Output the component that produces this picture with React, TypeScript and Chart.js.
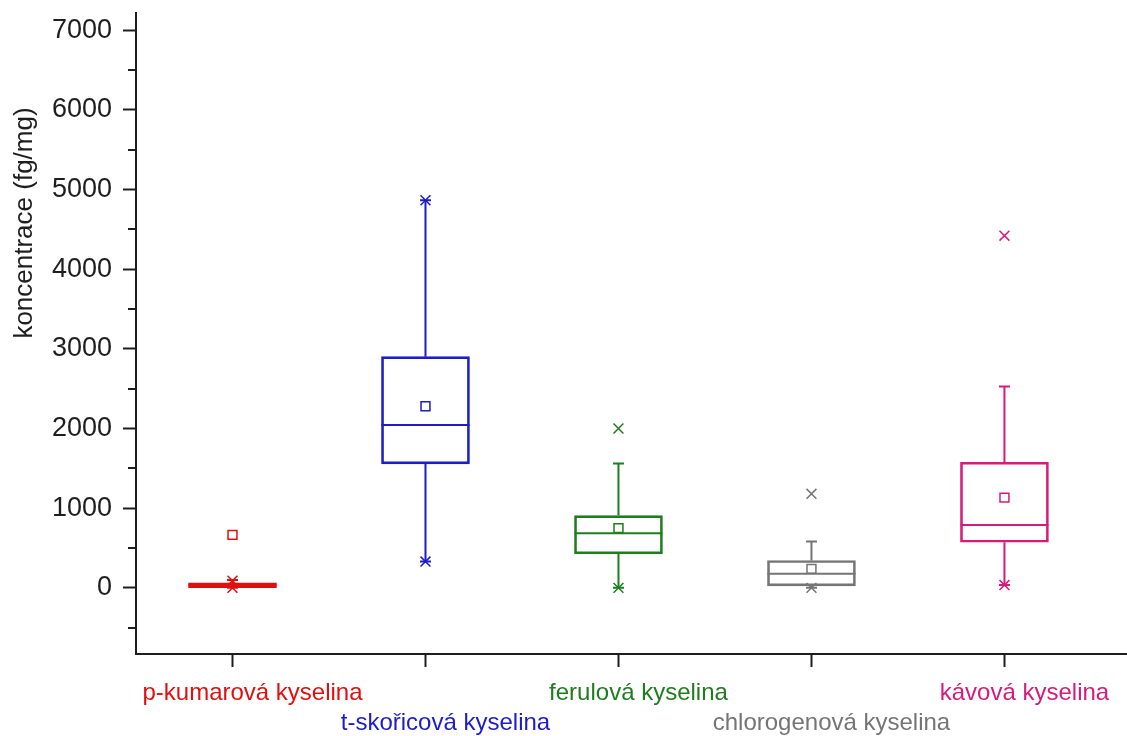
import React, { useEffect, useRef } from 'react';
import { Chart, registerables } from 'chart.js';

Chart.register(...registerables);

// ---- data ----
const categories = [
  'p-kumarová kyselina',
  't-skořicová kyselina',
  'ferulová kyselina',
  'chlorogenová kyselina',
  'kávová kyselina',
];
const positions = [1, 2, 3, 4, 5];
const colors = ['#e01010', '#1c1cc8', '#1f7d1f', '#757575', '#d81b7a'];

const q1 = [2, 1556, 427, 25, 573];
const median = [35, 2045, 686, 176, 790];
const q3 = [62, 2902, 907, 343, 1577];
const whiskerLow = [0, 330, 0, 0, 35];
const whiskerHigh = [100, 4865, 1560, 581, 2526];
const means = [665, 2280, 750, 238, 1133];
const lowMarkers = [0, 330, 0, 0, 35];
const highMarkers = [90, 4865, 2000, 1180, 4420];

const yMajorTicks = [0, 1000, 2000, 3000, 4000, 5000, 6000, 7000];
const yMinorTicks = [-500, 500, 1500, 2500, 3500, 4500, 5500, 6500];
const yTitle = 'koncentrace (fg/mg)';

const FONT = '"Liberation Sans", Arial, sans-serif';
const AXIS = '#1e1e1e';

export default function App() {
  const ref = useRef<HTMLCanvasElement | null>(null);

  useEffect(() => {
    if (!ref.current) return;

    const boxPlugin = {
      id: 'boxDetails',
      afterDatasetsDraw(chart: any) {
        const { ctx } = chart;
        const x = chart.scales.x;
        const y = chart.scales.y;
        const meta = chart.getDatasetMeta(0);
        ctx.save();
        ctx.lineWidth = 2;
        ctx.lineCap = 'butt';
        categories.forEach((_, i) => {
          const el = meta.data[i];
          const cx = x.getPixelForValue(positions[i]);
          const half = el.width / 2;
          ctx.strokeStyle = colors[i];
          const pMed = y.getPixelForValue(median[i]);
          const pQ1 = y.getPixelForValue(q1[i]);
          const pQ3 = y.getPixelForValue(q3[i]);
          const pLo = y.getPixelForValue(whiskerLow[i]);
          const pHi = y.getPixelForValue(whiskerHigh[i]);
          ctx.beginPath();
          ctx.moveTo(cx - half, pMed);
          ctx.lineTo(cx + half, pMed);
          ctx.moveTo(cx, pQ3);
          ctx.lineTo(cx, pHi);
          ctx.moveTo(cx, pQ1);
          ctx.lineTo(cx, pLo);
          ctx.moveTo(cx - 5.5, pHi);
          ctx.lineTo(cx + 5.5, pHi);
          ctx.moveTo(cx - 5.5, pLo);
          ctx.lineTo(cx + 5.5, pLo);
          ctx.stroke();
        });
        ctx.restore();
      },
      afterDraw(chart: any) {
        const { ctx, chartArea } = chart;
        const y = chart.scales.y;
        ctx.save();
        ctx.strokeStyle = AXIS;
        ctx.lineWidth = 2;
        ctx.beginPath();
        yMinorTicks.forEach((v) => {
          const py = Math.round(y.getPixelForValue(v));
          ctx.moveTo(chartArea.left - 8, py);
          ctx.lineTo(chartArea.left, py);
        });
        ctx.stroke();
        ctx.translate(25, 223);
        ctx.rotate(-Math.PI / 2);
        ctx.fillStyle = AXIS;
        ctx.font = `26px ${FONT}`;
        ctx.textAlign = 'center';
        ctx.textBaseline = 'middle';
        ctx.fillText(yTitle, 0, 0);
        ctx.restore();
      },
    };

    const chart = new Chart(ref.current, {
      type: 'bar',
      data: {
        datasets: [
          {
            type: 'bar',
            data: positions.map((p, i) => ({ x: p, y: [q1[i], q3[i]] })) as any,
            backgroundColor: 'rgba(0,0,0,0)',
            borderColor: colors,
            borderWidth: 2,
            borderSkipped: false,
            barThickness: 88,
          } as any,
          {
            type: 'scatter',
            data: positions.map((p, i) => ({ x: p, y: means[i] })),
            pointStyle: 'rect',
            pointRadius: 6.3,
            pointBorderWidth: 1.5,
            pointBackgroundColor: 'rgba(0,0,0,0)',
            pointBorderColor: colors,
          } as any,
          {
            type: 'scatter',
            data: positions.map((p, i) => ({ x: p, y: lowMarkers[i] })),
            pointStyle: 'crossRot',
            pointRadius: 7,
            pointBorderWidth: 1.5,
            pointBorderColor: colors,
          } as any,
          {
            type: 'scatter',
            data: positions.map((p, i) => ({ x: p, y: highMarkers[i] })),
            pointStyle: 'crossRot',
            pointRadius: 7,
            pointBorderWidth: 1.5,
            pointBorderColor: colors,
          } as any,
        ],
      },
      options: {
        responsive: false,
        animation: false,
        events: [],
        layout: { autoPadding: false, padding: { top: 13, right: 0, left: 0, bottom: 0 } },
        plugins: {
          legend: { display: false },
          tooltip: { enabled: false },
          title: { display: false },
        },
        scales: {
          x: {
            type: 'linear',
            min: 0.5,
            max: 5.635,
            offset: false,
            afterBuildTicks: (s: any) => {
              s.ticks = positions.map((v) => ({ value: v }));
            },
            afterFit: (s: any) => {
              s.height = 82;
              s.paddingLeft = 0;
              s.paddingRight = 0;
            },
            grid: {
              display: true,
              offset: false,
              drawOnChartArea: false,
              drawTicks: true,
              tickLength: 13,
              tickColor: AXIS,
              tickWidth: 2,
            },
            border: { display: true, color: AXIS, width: 2 },
            ticks: {
              autoSkip: false,
              maxRotation: 0,
              minRotation: 0,
              padding: 11,
              labelOffset: 20,
              font: { family: FONT, size: 24, lineHeight: 1.25 },
              color: (c: any) => colors[c.index % colors.length],
              callback: (_v: any, index: number) =>
                index % 2 === 1 ? ['', categories[index]] : categories[index],
            },
          },
          y: {
            type: 'linear',
            min: -830,
            max: 7215,
            afterBuildTicks: (s: any) => {
              s.ticks = yMajorTicks.map((v) => ({ value: v }));
            },
            afterFit: (s: any) => {
              s.width = 136;
              s.paddingTop = 0;
              s.paddingBottom = 0;
            },
            grid: {
              display: true,
              drawOnChartArea: false,
              drawTicks: true,
              tickLength: 13,
              tickColor: AXIS,
              tickWidth: 2,
            },
            border: { display: true, color: AXIS, width: 2 },
            ticks: {
              padding: 11,
              color: AXIS,
              font: { family: FONT, size: 27 },
              callback: (v: any) => String(v),
            },
          },
        },
      },
      plugins: [boxPlugin],
    });

    return () => chart.destroy();
  }, []);

  return (
    <div style={{ position: 'fixed', left: 0, top: 0, width: 1127, height: 736, background: '#fff' }}>
      <canvas ref={ref} width={1127} height={736} style={{ display: 'block' }} />
    </div>
  );
}
